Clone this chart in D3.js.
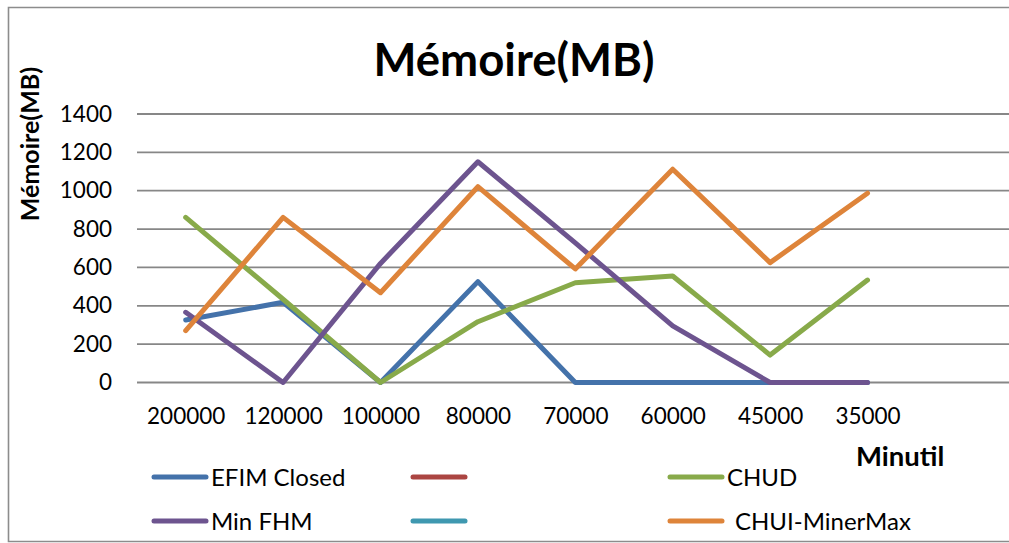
<!DOCTYPE html>
<html>
<head>
<meta charset="utf-8">
<script src="https://cdn.jsdelivr.net/npm/d3@7"></script>
<style>
  html, body { margin: 0; padding: 0; background: #fff; overflow: hidden; }
  svg { display: block; font-family: Lato, "Open Sans", sans-serif; }
</style>
</head>
<body>
<svg id="chart" width="1009" height="543"></svg>
<script>
// Minutil thresholds on the category axis (last slot is left empty)
const categories = ["200000", "120000", "100000", "80000", "70000", "60000", "45000", "35000", ""];
const yTicks = [0, 200, 400, 600, 800, 1000, 1200, 1400];

// Memory use (MB) per algorithm
const efimClosed   = [326, 418, 0, 526, 0, 0, 0, 0];
const unnamedRed   = [];
const chud         = [861, 434, 0, 317, 520, 555, 143, 534];
const minFhm       = [366, 0, 621, 1151, 728, 295, 0, 0];
const unnamedCyan  = [];
const chuiMinerMax = [270, 861, 468, 1021, 592, 1112, 625, 987];

const seriesNames  = ["EFIM Closed", "", "CHUD", "Min FHM", "", "CHUI-MinerMax"];
const seriesValues = [efimClosed, unnamedRed, chud, minFhm, unnamedCyan, chuiMinerMax];
const seriesColors = ["#4472aa", "#ab4542", "#88aa4a", "#6d548f", "#3f98b0", "#de843a"];

const svg = d3.select("#chart");

const plot = { left: 137, right: 1013.6, top: 114, bottom: 382.5 };

const x = d3.scalePoint().domain(categories).range([plot.left, plot.right]).padding(0.5);
const y = d3.scaleLinear().domain([0, 1400]).range([plot.bottom, plot.top]);

// Outer chart frame: top, left and bottom edges (right edge runs off the page)
svg.append("path")
  .attr("d", "M1009,7.5 H8.5 V541.5 H1009")
  .attr("fill", "none").attr("stroke", "#8c8c8c").attr("stroke-width", 1.6);

// Horizontal gridlines
svg.append("g")
  .selectAll("line")
  .data(yTicks)
  .join("line")
  .attr("x1", plot.left).attr("x2", plot.right)
  .attr("y1", d => y(d)).attr("y2", d => y(d))
  .attr("stroke", "#878787").attr("stroke-width", 1.8);

// Y axis tick labels
const yAxis = d3.axisLeft(y).tickValues(yTicks).tickFormat(d3.format("d")).tickSize(0).tickPadding(25);
const gy = svg.append("g").attr("transform", `translate(${plot.left},0)`).call(yAxis);
gy.select(".domain").remove();
gy.selectAll("text").attr("font-size", 22.5).attr("fill", "#000").attr("font-family", "Lato");

// X axis category labels
const xAxis = d3.axisBottom(x).tickSize(0).tickPadding(26);
const gx = svg.append("g").attr("transform", `translate(0,${plot.bottom})`).call(xAxis);
gx.select(".domain").remove();
gx.selectAll("text").attr("font-size", 22.5).attr("fill", "#000").attr("font-family", "Lato");

// Series lines
const line = d3.line()
  .x((d, i) => x(categories[i]))
  .y(d => y(d));

svg.append("g")
  .selectAll("path")
  .data(seriesValues.map((v, i) => ({ v, c: seriesColors[i] })).filter(s => s.v.length))
  .join("path")
  .attr("d", s => line(s.v))
  .attr("fill", "none")
  .attr("stroke", s => s.c)
  .attr("stroke-width", 5)
  .attr("stroke-linecap", "round")
  .attr("stroke-linejoin", "round");

// Title
svg.append("text")
  .attr("x", 514).attr("y", 76)
  .attr("text-anchor", "middle")
  .attr("font-size", 45.5).attr("font-weight", "bold")
  .text("Mémoire(MB)");

// Y axis title
svg.append("text")
  .attr("transform", "translate(39,144) rotate(-90)")
  .attr("text-anchor", "middle")
  .attr("font-size", 25).attr("font-weight", "bold")
  .text("Mémoire(MB)");

// X axis title
svg.append("text")
  .attr("x", 856).attr("y", 466)
  .attr("font-size", 27.5).attr("font-weight", "bold")
  .text("Minutil");

// Legend: three columns, two rows
const legendCols = [152, 411, 668];
const legendRows = [477, 521];
const legend = svg.append("g")
  .selectAll("g")
  .data(seriesNames.map((n, i) => ({ n, c: seriesColors[i], i })))
  .join("g")
  .attr("transform", d => `translate(${legendCols[d.i % 3]},${legendRows[Math.floor(d.i / 3)]})`);

legend.append("line")
  .attr("x1", 2).attr("x2", 54)
  .attr("stroke", d => d.c).attr("stroke-width", 5).attr("stroke-linecap", "round");

legend.append("text")
  .attr("x", d => d.n === "CHUI-MinerMax" ? 67 : 59)
  .attr("y", 8.5)
  .attr("font-size", 24)
  .text(d => d.n);
</script>
</body>
</html>
